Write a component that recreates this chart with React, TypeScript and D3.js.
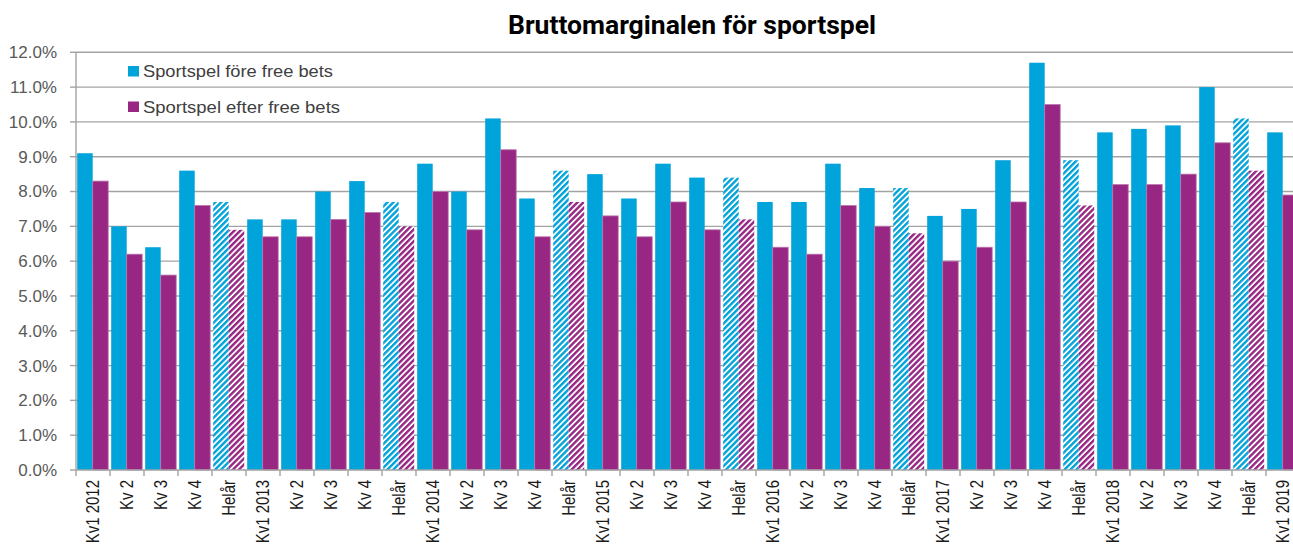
import React from "react";
import * as d3 from "d3";

const categories: string[] = [
  "Kv1 2012", "Kv 2", "Kv 3", "Kv 4", "Helår",
  "Kv1 2013", "Kv 2", "Kv 3", "Kv 4", "Helår",
  "Kv1 2014", "Kv 2", "Kv 3", "Kv 4", "Helår",
  "Kv1 2015", "Kv 2", "Kv 3", "Kv 4", "Helår",
  "Kv1 2016", "Kv 2", "Kv 3", "Kv 4", "Helår",
  "Kv1 2017", "Kv 2", "Kv 3", "Kv 4", "Helår",
  "Kv1 2018", "Kv 2", "Kv 3", "Kv 4", "Helår",
  "Kv1 2019",
];

const foreFreeBets: number[] = [
  9.1, 7.0, 6.4, 8.6, 7.7,
  7.2, 7.2, 8.0, 8.3, 7.7,
  8.8, 8.0, 10.1, 7.8, 8.6,
  8.5, 7.8, 8.8, 8.4, 8.4,
  7.7, 7.7, 8.8, 8.1, 8.1,
  7.3, 7.5, 8.9, 11.7, 8.9,
  9.7, 9.8, 9.9, 11.0, 10.1,
  9.7,
];

const efterFreeBets: number[] = [
  8.3, 6.2, 5.6, 7.6, 6.9,
  6.7, 6.7, 7.2, 7.4, 7.0,
  8.0, 6.9, 9.2, 6.7, 7.7,
  7.3, 6.7, 7.7, 6.9, 7.2,
  6.4, 6.2, 7.6, 7.0, 6.8,
  6.0, 6.4, 7.7, 10.5, 7.6,
  8.2, 8.2, 8.5, 9.4, 8.6,
  7.9,
];

const seriesNames: string[] = ["Sportspel före free bets", "Sportspel efter free bets"];
const yTicks: number[] = [0, 1, 2, 3, 4, 5, 6, 7, 8, 9, 10, 11, 12];

const BLUE = "#00A3DA";
const PURPLE = "#982783";

export default function App() {
  const W = 1293;
  const H = 545;
  const left = 76;
  const catW = 34;
  const right = left + catW * categories.length;
  const top = 52.3;
  const bottom = 470;

  const x0 = d3.scaleBand<number>().domain(d3.range(categories.length)).range([left, right]).padding(0);
  const x1 = d3.scaleBand<string>().domain(seriesNames).range([1.2, 32.2]).padding(0);
  const y = d3.scaleLinear().domain([0, 12]).range([bottom, top]);
  const fmt = d3.format(".1f");

  const series = [
    { name: seriesNames[0], values: foreFreeBets, color: BLUE, pattern: "hatchBlue", len: 190 },
    { name: seriesNames[1], values: efterFreeBets, color: PURPLE, pattern: "hatchPurple", len: 197 },
  ];

  return (
    <svg width={W} height={H} style={{ position: "absolute", left: 0, top: 0, display: "block" }}>
      <defs>
        <pattern id="hatchBlue" patternUnits="userSpaceOnUse" width="4.2" height="4.2" patternTransform="rotate(45)">
          <rect width="4.2" height="4.2" fill="#ffffff" />
          <rect width="2.4" height="4.2" fill={BLUE} />
        </pattern>
        <pattern id="hatchPurple" patternUnits="userSpaceOnUse" width="4.2" height="4.2" patternTransform="rotate(45)">
          <rect width="4.2" height="4.2" fill="#ffffff" />
          <rect width="2.4" height="4.2" fill={PURPLE} />
        </pattern>
      </defs>
      <rect width={W} height={H} fill="#ffffff" />

      <text
        x={508}
        y={34}
        textLength={368}
        lengthAdjust="spacingAndGlyphs"
        fontFamily="Roboto"
        fontWeight="bold"
        fontSize={25}
        fill="#000"
      >
        Bruttomarginalen för sportspel
      </text>

      {/* gridlines */}
      {yTicks.map((t) => (
        <g key={t}>
          {t > 0 && (
            <line x1={left} x2={right} y1={y(t)} y2={y(t)} stroke="#a3a3a3" strokeWidth={1.4} />
          )}
          <line x1={left - 6} x2={left} y1={y(t)} y2={y(t)} stroke="#a3a3a3" strokeWidth={1.4} />
          <text
            x={57}
            y={y(t)}
            dy="0.35em"
            textAnchor="end"
            fontFamily="Liberation Sans, Arial"
            fontSize={17}
            fill="#595959"
          >
            {fmt(t) + "%"}
          </text>
        </g>
      ))}

      {/* bars */}
      {series.map((s) => (
        <g key={s.name}>
          {s.values.map((v, i) => {
            const isYear = categories[i] === "Helår";
            const bx = (x0(i) as number) + (x1(s.name) as number);
            const bw = x1.bandwidth();
            return (
              <rect
                key={i}
                x={bx}
                y={y(v)}
                width={bw}
                height={y(0) - y(v)}
                fill={isYear ? `url(#${s.pattern})` : s.color}
                stroke={s.color === PURPLE && !isYear ? "#b978ad" : "none"}
                strokeWidth={0.8}
              />
            );
          })}
        </g>
      ))}

      {/* axes */}
      <line x1={left} x2={left} y1={top} y2={bottom} stroke="#a3a3a3" strokeWidth={1.4} />
      <line x1={left} x2={right} y1={bottom} y2={bottom} stroke="#a3a3a3" strokeWidth={1.4} />
      {d3.range(categories.length + 1).map((i) => (
        <line key={i} x1={left + i * catW} x2={left + i * catW} y1={bottom} y2={bottom + 6} stroke="#a3a3a3" strokeWidth={1.4} />
      ))}
      {categories.map((c, i) => {
        const cx = (x0(i) as number) + x0.bandwidth() / 2;
        return (
          <text
            key={i}
            transform={`translate(${cx},480) scale(1.2,1) rotate(-90)`}
            dy="0.35em"
            textAnchor="end"
            fontFamily="Liberation Sans, Arial"
            fontSize={15}
            fill="#1a1a1a"
          >
            {c}
          </text>
        );
      })}

      {/* legend */}
      {series.map((s, i) => (
        <g key={s.name} transform={`translate(128,${66 + i * 35.5})`}>
          <rect x={0} y={0} width={11} height={10.5} fill={s.color} />
          <text
            x={15}
            y={5.5}
            dy="0.35em"
            textLength={s.len}
            lengthAdjust="spacingAndGlyphs"
            fontFamily="Liberation Sans, Arial"
            fontSize={17}
            fill="#404040"
          >
            {s.name}
          </text>
        </g>
      ))}
    </svg>
  );
}
